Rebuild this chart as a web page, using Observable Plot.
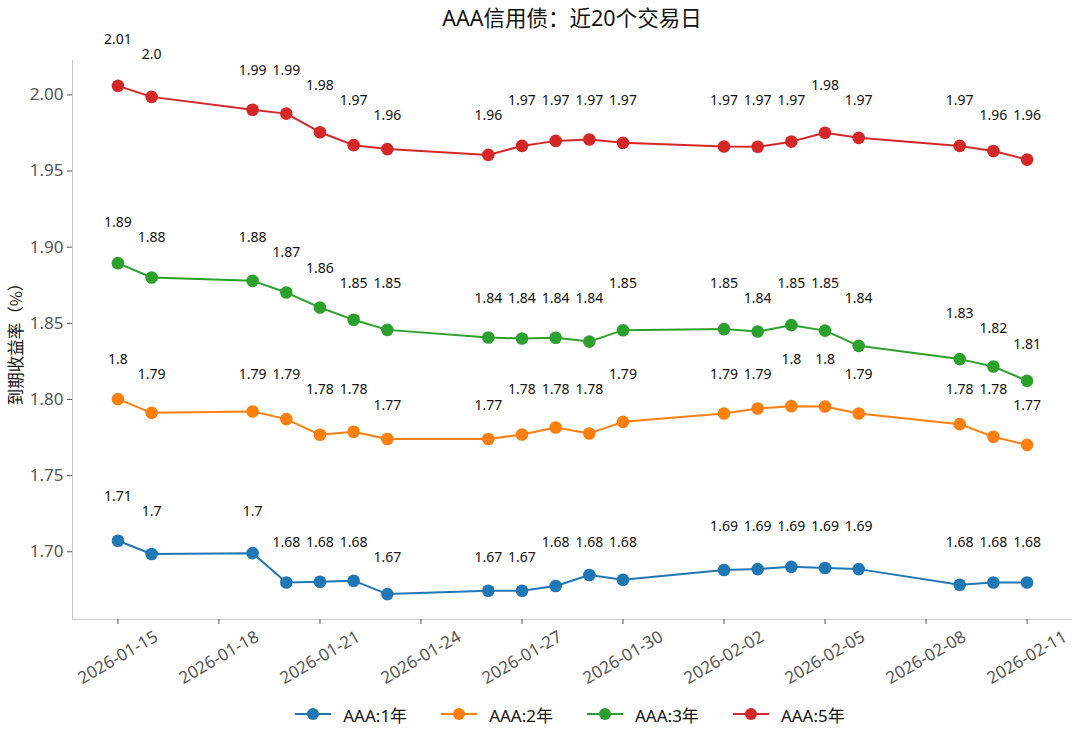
<!DOCTYPE html>
<html>
<head>
<meta charset="utf-8">
<script src="https://cdn.jsdelivr.net/npm/d3@7"></script>
<script src="https://cdn.jsdelivr.net/npm/@observablehq/plot@0.6"></script>
<style>
  html, body { margin: 0; padding: 0; background: #fff; }
  body { width: 1080px; height: 739px; overflow: hidden; font-family: "Noto Sans", "Noto Sans CJK SC", sans-serif; }
  #title { height: 30px; padding-top: 3px; padding-left: 64px; box-sizing: border-box; text-align: center; font-size: 21.5px; line-height: 30px; color: #111; }
  #chart svg { display: block; }
  #legend { display: flex; justify-content: center; align-items: center; height: 44px; gap: 34px; font-size: 17px; color: #111; padding-left: 60px; box-sizing: border-box; }
  .item { display: flex; align-items: center; gap: 12px; }
</style>
</head>
<body>
<div id="title">AAA信用债：近20个交易日</div>
<div id="chart"></div>
<div id="legend"></div>
<script>
const dates = ["2026-01-15","2026-01-16","2026-01-19","2026-01-20","2026-01-21","2026-01-22","2026-01-23",
  "2026-01-26","2026-01-27","2026-01-28","2026-01-29","2026-01-30",
  "2026-02-02","2026-02-03","2026-02-04","2026-02-05","2026-02-06",
  "2026-02-09","2026-02-10","2026-02-11"];
const seriesNames = ["AAA:1年","AAA:2年","AAA:3年","AAA:5年"];
const seriesColors = ["#1f77b4","#ff7f0e","#2ca02c","#d62728"];
const y1 = [1.7072,1.6985,1.6991,1.6798,1.6803,1.6810,1.6722,1.6744,1.6744,1.6775,1.6847,1.6816,1.6880,1.6886,1.6901,1.6893,1.6886,1.6783,1.6798,1.6798];
const y2 = [1.8002,1.7912,1.7921,1.7871,1.7768,1.7788,1.7740,1.7740,1.7770,1.7816,1.7777,1.7853,1.7908,1.7941,1.7956,1.7954,1.7908,1.7838,1.7755,1.7702];
const y3 = [1.8895,1.8801,1.8779,1.8702,1.8604,1.8523,1.8457,1.8407,1.8400,1.8405,1.8380,1.8455,1.8462,1.8446,1.8488,1.8452,1.8352,1.8265,1.8216,1.8123];
const y5 = [2.0059,1.9987,1.9902,1.9877,1.9755,1.9670,1.9644,1.9606,1.9665,1.9698,1.9707,1.9685,1.9661,1.9659,1.9693,1.9751,1.9718,1.9665,1.9632,1.9575];
const xTickLabels = ["2026-01-15","2026-01-18","2026-01-21","2026-01-24","2026-01-27","2026-01-30","2026-02-02","2026-02-05","2026-02-08","2026-02-11"];
const yTickValues = [1.70,1.75,1.80,1.85,1.90,1.95,2.00];
const yLabel = "到期收益率（%）";

const allSeries = [y1, y2, y3, y5];
const data = [];
allSeries.forEach((vals, si) => {
  vals.forEach((v, i) => data.push({series: seriesNames[si], date: new Date(dates[i]), value: v}));
});
const round2 = v => Math.round(v * 100) / 100;
const pyStr = v => { const r = round2(v); return Number.isInteger(r) ? r.toFixed(1) : String(r); };

const d0 = new Date(dates[0]).getTime(), d1 = new Date(dates[dates.length - 1]).getTime();
const padX = (d1 - d0) * 0.05;
const xDomain = [new Date(d0 - padX), new Date(d1 + padX)];
const allVals = allSeries.flat();
const vmin = d3.min(allVals), vmax = d3.max(allVals);
const padY = (vmax - vmin) * 0.05;
const yDomain = [vmin - padY, vmax + padY];
const xTicks = xTickLabels.map(s => new Date(s));
const fmtDate = d3.utcFormat("%Y-%m-%d");

const chart = Plot.plot({
  width: 1080,
  height: 662,
  marginTop: 30,
  marginBottom: 73,
  marginLeft: 72,
  marginRight: 8,
  style: {fontFamily: '"Noto Sans", "Noto Sans CJK SC", sans-serif', background: "#fff"},
  x: {type: "utc", domain: xDomain, axis: null},
  y: {domain: yDomain, axis: null},
  color: {domain: seriesNames, range: seriesColors},
  marks: [
    Plot.ruleX([xDomain[0]], {stroke: "#c8c8c8", strokeWidth: 1}),
    Plot.ruleY([yDomain[0]], {stroke: "#c8c8c8", strokeWidth: 1}),
    Plot.axisY({ticks: yTickValues, tickFormat: d3.format(".2f"), tickSize: 5, tickPadding: 4, fontSize: 17, color: "#555", label: null}),
    Plot.axisX({ticks: xTicks, tickSize: 5, tickFormat: () => "", color: "#555", label: null}),
    Plot.text(xTicks, {x: d => d, frameAnchor: "bottom", dy: 38, rotate: -30, textAnchor: "middle", lineAnchor: "middle", text: d => fmtDate(d), fontSize: 17, fill: "#555"}),
    Plot.text([yLabel], {frameAnchor: "left", dx: -56, rotate: -90, text: d => d, fontSize: 16.5, fill: "#111", textAnchor: "middle", lineAnchor: "middle", fontFamily: '"Noto Sans CJK SC", sans-serif'}),
    Plot.line(data, {x: "date", y: "value", z: "series", stroke: "series", strokeWidth: 2}),
    Plot.dot(data, {x: "date", y: "value", fill: "series", r: 6.3}),
    Plot.text(data, {x: "date", y: d => round2(d.value), text: d => pyStr(d.value), dy: -40, fontSize: 14, fill: "#111", lineAnchor: "middle"})
  ]
});
document.getElementById("chart").appendChild(chart);

const legend = document.getElementById("legend");
seriesNames.forEach((name, i) => {
  const item = document.createElement("div");
  item.className = "item";
  item.innerHTML = `<svg width="36" height="14"><line x1="0" y1="7" x2="36" y2="7" stroke="${seriesColors[i]}" stroke-width="2"/><circle cx="18" cy="7" r="6" fill="${seriesColors[i]}"/></svg><span>${name}</span>`;
  legend.appendChild(item);
});
</script>
</body>
</html>
